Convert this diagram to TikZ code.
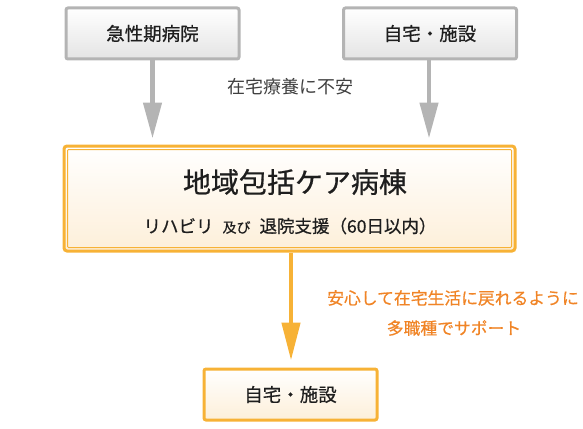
\documentclass[tikz,border=0pt]{standalone}
\usepackage{fontspec}
\newfontfamily\jp[FakeBold=0.6]{Noto Sans CJK JP}
\newfontfamily\jpl{Noto Sans CJK JP}
\usetikzlibrary{arrows.meta,calc}
\definecolor{grayline}{HTML}{B4B4B4}
\definecolor{grayfill}{HTML}{E4E4E4}
\definecolor{orangeline}{HTML}{F7B236}
\definecolor{creamfill}{HTML}{FDEFD9}
\definecolor{txtorange}{HTML}{F08426}
\definecolor{txtdark}{HTML}{1E1E1E}
\tikzset{
  graybox/.style={draw=grayline, line width=3pt, rounded corners=2pt, top color=white, bottom color=grayfill,
    minimum width=173pt, minimum height=51pt, inner sep=0pt, font=\jp\fontsize{18.5}{22}\selectfont, text=txtdark},
  mainbox/.style={draw=orangeline, line width=3pt, rounded corners=3pt, top color=white, bottom color=creamfill,
    minimum width=451pt, minimum height=105pt, inner sep=0pt},
  endbox/.style={draw=orangeline, line width=3pt, rounded corners=2pt, top color=white, bottom color=creamfill,
    minimum width=173pt, minimum height=51pt, inner sep=0pt, font=\jp\fontsize{18.5}{22}\selectfont, text=txtdark},
  grayarrow/.style={draw=grayline, line width=4.5pt, -{Triangle[width=18pt,length=36pt]}},
  orangearrow/.style={draw=orangeline, line width=4.5pt, -{Triangle[width=18pt,length=38pt]}},
  note/.style={font=\jp\fontsize{16.8}{20}\selectfont, inner sep=0pt},
}
\begin{document}
\begin{tikzpicture}[x=1pt,y=-1pt]
\useasboundingbox (0,0) rectangle (583,428);
\node[graybox] (acute) at (152.5,33.5) {急性期病院};
\node[graybox] (home1) at (430,33.5) {自宅・施設};
\node[mainbox] (main) at (289.5,198.5) {};
\draw[orangeline, line width=1pt, rounded corners=1pt]
  ([xshift=5pt,yshift=-5pt]main.north west) rectangle ([xshift=-5pt,yshift=5pt]main.south east);
\node[font=\jp\fontsize{28}{32}\selectfont, text=txtdark, inner sep=0pt] (title) at (295,182) {地域包括ケア病棟};
\node[font=\jp\fontsize{17.5}{20}\selectfont, text=txtdark, inner sep=0pt] (sub) at (290,226)
  {リハビリ\hspace{9pt}{\fontsize{14}{16}\selectfont 及び}\hspace{9pt}退院支援（60日以内）};
\node[endbox] (home2) at (290.5,394.5) {自宅・施設};
\node[note, text=txtdark!85, font=\jpl\fontsize{18}{21}\selectfont] (anx) at (290.5,87) {在宅療養に不安};
\node[note, text=txtorange] (sup1) at (453,298) {安心して在宅生活に戻れるように};
\node[note, text=txtorange] (sup2) at (454,328) {多職種でサポート};
\draw[grayarrow, shorten >=6pt] (acute.south) -- (acute.south |- main.north);
\draw[grayarrow, shorten >=6pt] ([xshift=-1pt]home1.south) -- ([xshift=-1pt]home1.south |- main.north);
\draw[orangearrow, shorten >=7pt] ([xshift=1.5pt]main.south) -- ([xshift=1.5pt]main.south |- home2.north);
\end{tikzpicture}
\end{document}
